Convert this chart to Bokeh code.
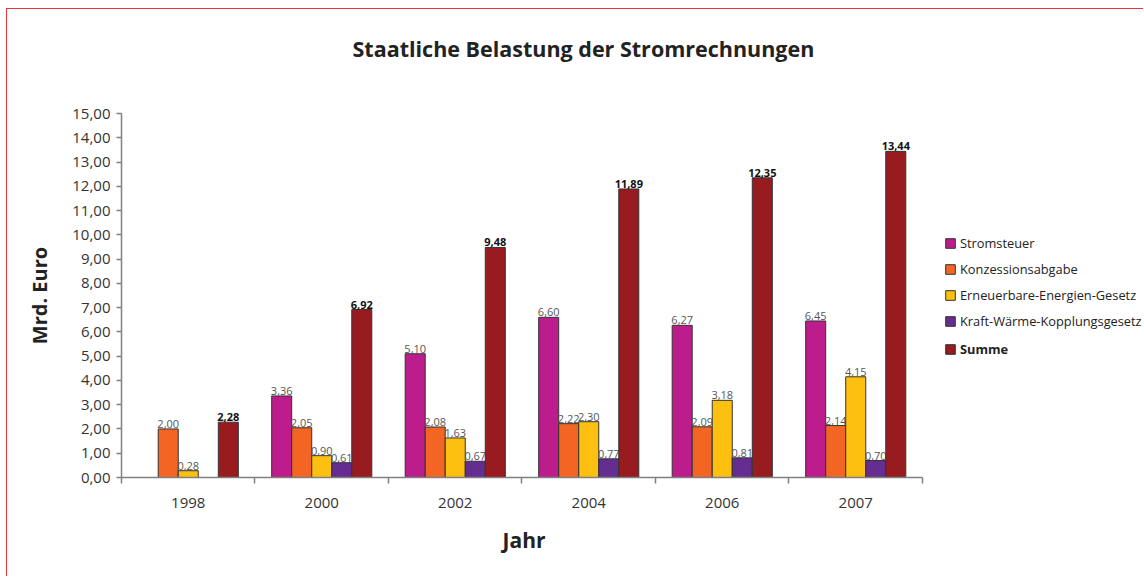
import math
from bokeh.plotting import figure
from bokeh.models import ColumnDataSource, FixedTicker, Legend, LegendItem, Range1d, Title
from bokeh.core.properties import value
from bokeh.transform import dodge
from bokeh.embed import file_html
from bokeh.resources import INLINE

NaN = float("nan")

years = ["1998", "2000", "2002", "2004", "2006", "2007"]
stromsteuer = [NaN, 3.36, 5.10, 6.60, 6.27, 6.45]
konzession = [2.00, 2.05, 2.08, 2.22, 2.09, 2.14]
eeg = [0.28, 0.90, 1.63, 2.30, 3.18, 4.15]
kwk = [NaN, 0.61, 0.67, 0.77, 0.81, 0.70]
summe = [2.28, 6.92, 9.48, 11.89, 12.35, 13.44]

series_names = ["Stromsteuer", "Konzessionsabgabe", "Erneuerbare-Energien-Gesetz",
                "Kraft-Wärme-Kopplungsgesetz", "Summe"]
series_values = [stromsteuer, konzession, eeg, kwk, summe]
colors = ["#BC1C8C", "#F26522", "#FDC010", "#662D91", "#981B20"]

y_ticks = list(range(0, 16))

FONT = "Open Sans"


def fmt(v):
    if v is None or (isinstance(v, float) and math.isnan(v)):
        return ""
    return f"{v:.2f}".replace(".", ",")


# frame extends to the right edge so the legend (inside the frame) is not clipped;
# the x axis itself is bounded to the six year groups
p = figure(width=1137, height=568, output_backend="svg", toolbar_location=None,
           x_range=Range1d(0, 7.663), y_range=Range1d(0, 15),
           min_border_left=114, min_border_right=0, min_border_top=104,
           min_border_bottom=100)
p.styles = {"margin-left": "6px", "margin-top": "8px",
            "border-left": "1.5px solid #e63640", "border-top": "1.5px solid #e63640"}

p.outline_line_color = None
p.xgrid.visible = False
p.ygrid.visible = False
p.background_fill_color = "white"
p.border_fill_color = "white"

# spacer between title and plot, then the title itself
p.add_layout(Title(text=" ", text_font_size="1px", standoff=48), "above")
p.add_layout(Title(text="Staatliche Belastung der Stromrechnungen", align="left", offset=231,
                   standoff=0, text_font=FONT, text_font_size="21.5px",
                   text_font_style="bold", text_color="#222222"), "above")

xc = [i + 0.5 for i in range(len(years))]
bw = 0.15

renderers = []
for k, (name, vals, col) in enumerate(zip(series_names, series_values, colors)):
    off = (k - 2) * bw
    src = ColumnDataSource(dict(x=xc, top=vals, label=[fmt(v) for v in vals]))
    r = p.vbar(x=dodge("x", off), top="top", width=bw, source=src,
               fill_color=col, line_color="#333333", line_width=1)
    renderers.append(r)
    is_sum = name == "Summe"
    p.text(x=dodge("x", off), y="top", text="label", source=src,
           text_align="center", text_baseline="bottom", y_offset=-1,
           text_font=value(FONT), text_font_size="11px",
           text_font_style="bold" if is_sum else "normal",
           text_color="#111111" if is_sum else "#555555")

# x axis
xa = p.xaxis[0]
xa.bounds = (0, len(years))
xa.ticker = FixedTicker(ticks=xc, minor_ticks=list(range(len(years) + 1)))
xa.major_label_overrides = {c: y for c, y in zip(xc, years)}
xa.major_tick_line_color = None
xa.major_tick_out = 0
xa.major_tick_in = 0
xa.minor_tick_out = 6
xa.minor_tick_in = 0
xa.minor_tick_line_color = "#808080"
xa.minor_tick_line_width = 1.5
xa.axis_line_color = "#808080"
xa.axis_line_width = 1.5
xa.major_label_text_font = FONT
xa.major_label_text_font_size = "15px"
xa.major_label_text_color = "#333333"
xa.major_label_standoff = 14

# x axis title, centred under the six year groups
p.add_layout(Title(text="Jahr", align="left", offset=381, vertical_align="top",
                   standoff=30, text_font=FONT, text_font_size="21px",
                   text_font_style="bold", text_color="#222222"), "below")

# y axis
ya = p.yaxis[0]
ya.ticker = FixedTicker(ticks=y_ticks, minor_ticks=[])
ya.major_label_overrides = {t: f"{t},00" for t in y_ticks}
ya.major_tick_out = 5
ya.major_tick_in = 0
ya.major_tick_line_color = "#808080"
ya.major_tick_line_width = 1.5
ya.axis_line_color = "#808080"
ya.axis_line_width = 1.5
ya.major_label_text_font = FONT
ya.major_label_text_font_size = "15px"
ya.major_label_text_color = "#333333"
ya.major_label_standoff = 6
ya.axis_label = "Mrd. Euro"
ya.axis_label_text_font = FONT
ya.axis_label_text_font_size = "20px"
ya.axis_label_text_font_style = "bold"
ya.axis_label_text_color = "#222222"
ya.axis_label_standoff = 16

# legends
items1 = [LegendItem(label=n, renderers=[r]) for n, r in zip(series_names[:4], renderers[:4])]
items2 = [LegendItem(label=series_names[4], renderers=[renderers[4]])]


def make_legend(items, loc, bold):
    return Legend(items=items, location=loc, orientation="vertical",
                  glyph_width=12, glyph_height=12, label_height=14, label_standoff=4,
                  spacing=8, padding=0, margin=0, border_line_color=None,
                  background_fill_alpha=0,
                  label_text_font=FONT, label_text_font_size="12.8px",
                  label_text_font_style="bold" if bold else "normal",
                  label_text_color="#222222")


p.add_layout(make_legend(items1, (823, 147), False))
p.add_layout(make_legend(items2, (823, 119), True))

open("out.html", "w").write(file_html(p, INLINE))
